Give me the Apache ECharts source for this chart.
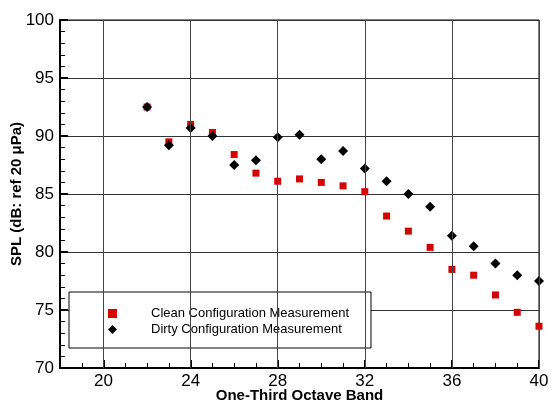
<!DOCTYPE html>
<html>
<head>
<meta charset="utf-8">
<script src="https://cdn.jsdelivr.net/npm/echarts@6/dist/echarts.min.js"></script>
<style>
  html, body { margin: 0; padding: 0; background: #fff; }
  #chart { width: 551px; height: 402px; }
</style>
</head>
<body>
<div id="chart"></div>
<script>
// one-third octave band numbers
const bands = [22, 23, 24, 25, 26, 27, 28, 29, 30, 31, 32, 33, 34, 35, 36, 37, 38, 39, 40];
const cleanSPL = [92.5, 89.5, 91.0, 90.3, 88.4, 86.8, 86.1, 86.3, 86.0, 85.7, 85.2, 83.1, 81.8, 80.4, 78.5, 78.0, 76.3, 74.8, 73.6];
const dirtySPL = [92.5, 89.2, 90.7, 90.0, 87.5, 87.9, 89.9, 90.1, 88.0, 88.7, 87.2, 86.1, 85.0, 83.9, 81.4, 80.5, 79.0, 78.0, 77.5];
const xTicks = [20, 24, 28, 32, 36, 40];

const FONT = '"Liberation Sans", Arial, sans-serif';

const chart = echarts.init(document.getElementById('chart'));

chart.setOption({
  animation: false,
  textStyle: { fontFamily: FONT, color: '#000' },
  grid: {
    left: 60, right: 12, top: 20, bottom: 34,
    outerBoundsMode: 'none',
    containLabel: false,
    show: true, borderColor: '#000', borderWidth: 1
  },
  legend: {
    orient: 'vertical',
    left: 69, top: 292,
    padding: [15, 22, 12, 39],
    itemGap: 3,
    itemWidth: 9, itemHeight: 9,
    backgroundColor: '#fff',
    borderColor: '#000', borderWidth: 1,
    textStyle: { fontSize: 13, color: '#000', fontFamily: FONT, padding: [0, 0, 0, 29] },
    data: [
      { name: 'Clean Configuration Measurement', icon: 'rect' },
      { name: 'Dirty Configuration Measurement', icon: 'diamond' }
    ]
  },
  xAxis: [{
    type: 'value',
    min: 18, max: 40, interval: 1,
    name: 'One-Third Octave Band',
    nameLocation: 'middle',
    nameGap: 20,
    nameMoveOverlap: false,
    nameTextStyle: { fontSize: 15, fontWeight: 'bold', color: '#000' },
    axisLine: { lineStyle: { color: '#000', width: 2 } },
    axisTick: { show: true, inside: true, length: 5, lineStyle: { color: '#000', width: 1 } },
    axisLabel: {
      fontSize: 17, color: '#000', margin: 5,
      formatter: v => (xTicks.indexOf(v) >= 0 ? String(v) : '')
    },
    splitLine: { show: false }
  }, {
    type: 'value',
    position: 'bottom',
    offset: 0,
    min: 18, max: 40,
    axisLine: { show: false },
    axisTick: { show: true, inside: true, length: 8, customValues: xTicks, lineStyle: { color: '#000', width: 2 } },
    axisLabel: { show: false },
    splitLine: { show: false }
  }],
  yAxis: {
    type: 'value',
    min: 70, max: 100, interval: 5,
    name: 'SPL (dB: ref 20 μPa)',
    nameLocation: 'middle',
    nameGap: 36,
    nameMoveOverlap: false,
    nameTextStyle: { fontSize: 15, fontWeight: 'bold', color: '#000' },
    axisLine: { show: true, lineStyle: { color: '#000', width: 2 } },
    axisTick: { show: true, inside: true, length: 8, lineStyle: { color: '#000', width: 2 } },
    minorTick: { show: true, splitNumber: 5, length: 5, lineStyle: { color: '#000', width: 1 } },
    axisLabel: { fontSize: 17, color: '#000', margin: 6 },
    splitLine: { show: true, lineStyle: { color: '#333', width: 1 } }
  },
  series: [{
    name: 'Clean Configuration Measurement',
    type: 'scatter',
    symbol: 'rect',
    symbolSize: 7,
    itemStyle: { color: '#d60000', opacity: 1 },
    data: bands.map((b, i) => [b, cleanSPL[i]]),
    markLine: {
      silent: true,
      symbol: 'none',
      label: { show: false },
      lineStyle: { color: '#444', width: 1, type: 'solid' },
      data: xTicks.map(v => ({ xAxis: v }))
    },
    z: 2
  }, {
    name: 'Dirty Configuration Measurement',
    type: 'scatter',
    symbol: 'diamond',
    symbolSize: 10,
    itemStyle: { color: '#000', opacity: 1 },
    data: bands.map((b, i) => [b, dirtySPL[i]]),
    z: 3
  }]
});
</script>
</body>
</html>
